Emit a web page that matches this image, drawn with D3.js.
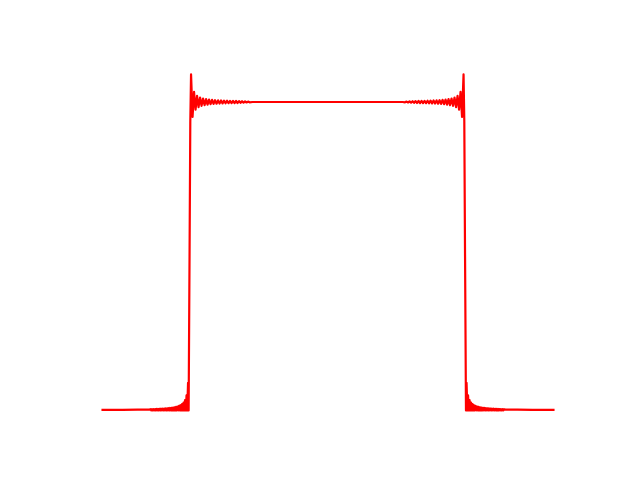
<!DOCTYPE html>
<html>
<head>
<meta charset="utf-8">
<script src="https://cdn.jsdelivr.net/npm/d3@7"></script>
<style>
  html, body { margin: 0; padding: 0; background: #ffffff; }
  svg { display: block; }
</style>
</head>
<body>
<svg id="chart" width="640" height="480"></svg>
<script>
// Magnitude of a truncated Fourier series of a rectangular pulse (Gibbs ringing).
const leftTail = [
  [0, 0.002], [20, 0.002], [35, 0.0022], [46.5, 0.0025],
  [48.0, 0.0039], [48.75, 0], [49.5, 0.0041], [50.25, 0], [51.0, 0.0042], [51.75, 0],
  [52.5, 0.0044], [53.25, 0], [54.0, 0.0046], [54.75, 0], [55.5, 0.0048], [56.25, 0],
  [57.0, 0.0051], [57.75, 0], [58.5, 0.0053], [59.25, 0], [60.0, 0.0056], [60.75, 0],
  [61.5, 0.0060], [62.25, 0], [63.0, 0.0063], [63.75, 0], [64.5, 0.0068], [65.25, 0],
  [66.0, 0.0072], [66.75, 0], [67.5, 0.0078], [68.25, 0], [69.0, 0.0084], [69.75, 0],
  [70.5, 0.0092], [71.25, 0], [72.0, 0.0101], [72.75, 0], [73.5, 0.0112], [74.25, 0],
  [75.0, 0.0126], [75.75, 0], [76.5, 0.0144], [77.25, 0], [78.0, 0.0168], [78.75, 0],
  [79.5, 0.0201], [80.25, 0], [81.0, 0.0250], [81.75, 0], [82.5, 0.0331], [83.25, 0],
  [84.0, 0.0486], [84.7, 0], [85.5, 0.0895], [86.08, 0]
];
const leftEdge = [[87.0, 0.5], [87.75, 0.936], [88.5, 1.0895]];
const leftRipple = [
  [90.0, 0.9514], [91.5, 1.0331], [93.0, 0.9750], [94.5, 1.0201], [96.0, 0.9832],
  [97.5, 1.0144], [99.0, 0.9874], [100.5, 1.0112], [102.0, 0.9899], [103.5, 1.0092],
  [105.0, 0.9916], [106.5, 1.0078], [108.0, 0.9928], [109.5, 1.0068], [111.0, 0.9937],
  [112.5, 1.0060], [114.0, 0.9944], [115.5, 1.0053], [117.0, 0.9949], [118.5, 1.0048],
  [120.0, 0.9954], [121.5, 1.0044], [123.0, 0.9958], [124.5, 1.0041], [126.0, 0.9961],
  [127.5, 1.0038], [129.0, 0.9964], [130.5, 1.0035], [132.0, 0.9966], [133.5, 1.0033],
  [135.0, 0.9968], [136.5, 1.0030], [138.0, 0.9972], [139.5, 1.0025], [141.0, 0.9978],
  [142.5, 1.0020], [144.0, 0.9984], [145.5, 1.0014], [147.0, 0.9990]
];
const plateau = [[150.0, 1.0], [225.0, 1.0], [300.0, 1.0]];
const rightRipple = [
  [302.5, 0.9990], [304.0, 1.0014], [305.5, 0.9984], [307.0, 1.0020], [308.5, 0.9978],
  [310.0, 1.0025], [311.5, 0.9972], [313.0, 1.0030], [314.5, 0.9968],
  [316.0, 1.0033], [317.5, 0.9966], [319.0, 1.0035], [320.5, 0.9964], [322.0, 1.0038],
  [323.5, 0.9961], [325.0, 1.0041], [326.5, 0.9958], [328.0, 1.0044], [329.5, 0.9954],
  [331.0, 1.0048], [332.5, 0.9949], [334.0, 1.0053], [335.5, 0.9944], [337.0, 1.0060],
  [338.5, 0.9937], [340.0, 1.0068], [341.5, 0.9928], [343.0, 1.0078], [344.5, 0.9916],
  [346.0, 1.0092], [347.5, 0.9899], [349.0, 1.0112], [350.5, 0.9874], [352.0, 1.0144],
  [353.5, 0.9832], [355.0, 1.0201], [356.5, 0.9750], [358.0, 1.0331], [359.5, 0.9514]
];
const rightEdge = [[361.0, 1.0895], [361.75, 0.936], [362.5, 0.5]];
const rightTail = [
  [363.42, 0], [364.0, 0.0895], [364.8, 0], [365.5, 0.0486], [366.25, 0],
  [367.0, 0.0331], [367.75, 0], [368.5, 0.0250], [369.25, 0], [370.0, 0.0201], [370.75, 0],
  [371.5, 0.0168], [372.25, 0], [373.0, 0.0144], [373.75, 0], [374.5, 0.0126], [375.25, 0],
  [376.0, 0.0112], [376.75, 0], [377.5, 0.0101], [378.25, 0], [379.0, 0.0092], [379.75, 0],
  [380.5, 0.0084], [381.25, 0], [382.0, 0.0078], [382.75, 0], [383.5, 0.0072], [384.25, 0],
  [385.0, 0.0068], [385.75, 0], [386.5, 0.0063], [387.25, 0], [388.0, 0.0060], [388.75, 0],
  [389.5, 0.0056], [390.25, 0], [391.0, 0.0053], [391.75, 0], [392.5, 0.0051], [393.25, 0],
  [394.0, 0.0048], [394.75, 0], [395.5, 0.0046], [396.25, 0], [397.0, 0.0044], [397.75, 0],
  [398.5, 0.0042], [399.25, 0], [400.0, 0.0041], [400.75, 0], [401.5, 0.0039],
  [403.0, 0.0025], [415.0, 0.0022], [430.0, 0.002], [450.9, 0.002]
];

const curve = [].concat(leftTail, leftEdge, leftRipple, plateau, rightRipple, rightEdge, rightTail);

const W = 640, H = 480;
// matplotlib-like axes box (axes hidden), with 5% data margins
const axL = 80, axR = 576, axT = 57.6, axB = 427.2;
const xExt = d3.extent(curve, d => d[0]);
const yExt = d3.extent(curve, d => d[1]);
const xPad = (xExt[1] - xExt[0]) * 0.05, yPad = (yExt[1] - yExt[0]) * 0.05;

const x = d3.scaleLinear().domain([xExt[0] - xPad, xExt[1] + xPad]).range([axL, axR]);
const y = d3.scaleLinear().domain([yExt[0] - yPad, yExt[1] + yPad]).range([axB, axT]);

const svg = d3.select("#chart");
svg.append("rect").attr("width", W).attr("height", H).attr("fill", "#ffffff");

const line = d3.line().x(d => x(d[0])).y(d => y(d[1]));

svg.append("path")
  .datum(curve)
  .attr("d", line)
  .attr("fill", "none")
  .attr("stroke", "#ff0000")
  .attr("stroke-width", 2.2)
  .attr("stroke-linejoin", "round")
  .attr("stroke-linecap", "square");
</script>
</body>
</html>
